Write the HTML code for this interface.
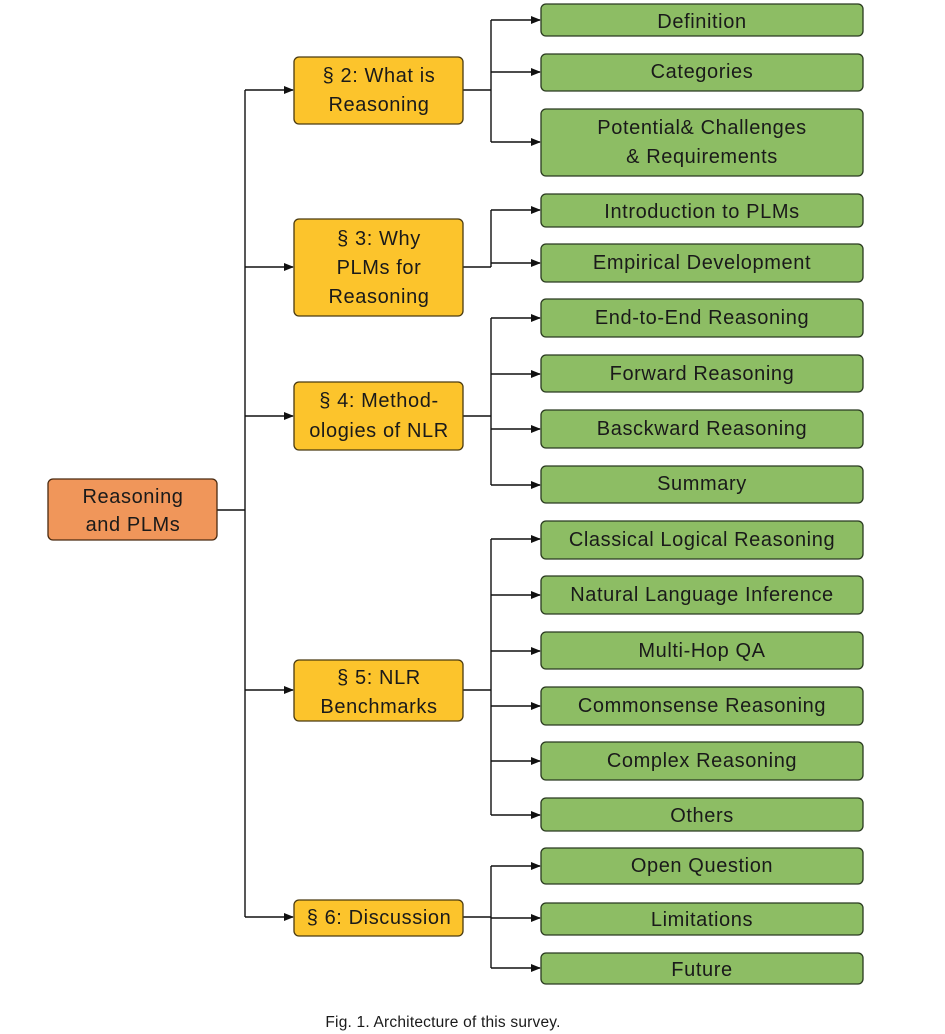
<!DOCTYPE html>
<html><head><meta charset="utf-8"><style>
html,body{margin:0;padding:0;background:#fff;}
svg{display:block;}
text{font-family:"Liberation Sans",sans-serif;font-size:20px;fill:#1a1a1a;text-anchor:middle;letter-spacing:0.6px;}
.g{fill:#8dbd64;stroke:#2a3a20;stroke-width:1.3;}
.y{fill:#fcc42c;stroke:#4a3a10;stroke-width:1.3;}
.o{fill:#f0965a;stroke:#4a2a10;stroke-width:1.3;}
.l{stroke:#111;stroke-width:1.4;fill:none;}
</style></head><body>
<svg width="945" height="1034" viewBox="0 0 945 1034" xmlns="http://www.w3.org/2000/svg">
<defs><marker id="a" markerWidth="10" markerHeight="8" refX="9" refY="4" orient="auto" markerUnits="userSpaceOnUse"><path d="M0,0 L10,4 L0,8 Z" fill="#111"/></marker></defs>
<!-- trunk -->
<path class="l" d="M217,510 H245 M245,90 V917"/>
<path class="l" marker-end="url(#a)" d="M245,90 H293"/>
<path class="l" marker-end="url(#a)" d="M245,267 H293"/>
<path class="l" marker-end="url(#a)" d="M245,416 H293"/>
<path class="l" marker-end="url(#a)" d="M245,690 H293"/>
<path class="l" marker-end="url(#a)" d="M245,917 H293"/>
<!-- group connectors -->
<path class="l" d="M463,90 H491 M491,20 V142 M463,267 H491 M491,210 V267 M463,416 H491 M491,318 V485 M463,690 H491 M491,539 V815 M463,917 H491 M491,866 V968"/>
<g class="l" marker-end="url(#a)">
<path d="M491,20 H540"/><path d="M491,72 H540"/><path d="M491,142 H540"/>
<path d="M491,210 H540"/><path d="M491,263 H540"/>
<path d="M491,318 H540"/><path d="M491,374 H540"/><path d="M491,429 H540"/><path d="M491,485 H540"/>
<path d="M491,539 H540"/><path d="M491,595 H540"/><path d="M491,651 H540"/><path d="M491,706 H540"/><path d="M491,761 H540"/><path d="M491,815 H540"/>
<path d="M491,866 H540"/><path d="M491,918 H540"/><path d="M491,968 H540"/>
</g>
<!-- root -->
<rect class="o" x="48" y="479" width="169" height="61" rx="5"/>
<text x="133" y="503">Reasoning</text><text x="133" y="531">and PLMs</text>
<!-- level 1 -->
<rect class="y" x="294" y="57" width="169" height="67" rx="5"/>
<text x="379" y="82">§ 2: What is</text><text x="379" y="111">Reasoning</text>
<rect class="y" x="294" y="219" width="169" height="97" rx="5"/>
<text x="379" y="245">§ 3: Why</text><text x="379" y="274">PLMs for</text><text x="379" y="303">Reasoning</text>
<rect class="y" x="294" y="382" width="169" height="68" rx="5"/>
<text x="379" y="407">§ 4: Method-</text><text x="379" y="437">ologies of NLR</text>
<rect class="y" x="294" y="660" width="169" height="61" rx="5"/>
<text x="379" y="684">§ 5: NLR</text><text x="379" y="713">Benchmarks</text>
<rect class="y" x="294" y="900" width="169" height="36" rx="5"/>
<text x="379" y="924">§ 6: Discussion</text>
<!-- level 2 -->
<rect class="g" x="541" y="4" width="322" height="32" rx="5"/><text x="702" y="28">Definition</text>
<rect class="g" x="541" y="54" width="322" height="37" rx="5"/><text x="702" y="78">Categories</text>
<rect class="g" x="541" y="109" width="322" height="67" rx="5"/><text x="702" y="134">Potential&amp; Challenges</text><text x="702" y="163">&amp; Requirements</text>
<rect class="g" x="541" y="194" width="322" height="33" rx="5"/><text x="702" y="218">Introduction to PLMs</text>
<rect class="g" x="541" y="244" width="322" height="38" rx="5"/><text x="702" y="269">Empirical Development</text>
<rect class="g" x="541" y="299" width="322" height="38" rx="5"/><text x="702" y="324">End-to-End Reasoning</text>
<rect class="g" x="541" y="355" width="322" height="37" rx="5"/><text x="702" y="380">Forward Reasoning</text>
<rect class="g" x="541" y="410" width="322" height="38" rx="5"/><text x="702" y="435">Basckward Reasoning</text>
<rect class="g" x="541" y="466" width="322" height="37" rx="5"/><text x="702" y="490">Summary</text>
<rect class="g" x="541" y="521" width="322" height="38" rx="5"/><text x="702" y="546">Classical Logical Reasoning</text>
<rect class="g" x="541" y="576" width="322" height="38" rx="5"/><text x="702" y="601">Natural Language Inference</text>
<rect class="g" x="541" y="632" width="322" height="37" rx="5"/><text x="702" y="657">Multi-Hop QA</text>
<rect class="g" x="541" y="687" width="322" height="38" rx="5"/><text x="702" y="712">Commonsense Reasoning</text>
<rect class="g" x="541" y="742" width="322" height="38" rx="5"/><text x="702" y="767">Complex Reasoning</text>
<rect class="g" x="541" y="798" width="322" height="33" rx="5"/><text x="702" y="822">Others</text>
<rect class="g" x="541" y="848" width="322" height="36" rx="5"/><text x="702" y="872">Open Question</text>
<rect class="g" x="541" y="903" width="322" height="32" rx="5"/><text x="702" y="926">Limitations</text>
<rect class="g" x="541" y="953" width="322" height="31" rx="5"/><text x="702" y="976">Future</text>
<text x="443" y="1027" style="font-size:15.5px;letter-spacing:0.2px">Fig. 1.  Architecture of this survey.</text>
</svg>
</body></html>
